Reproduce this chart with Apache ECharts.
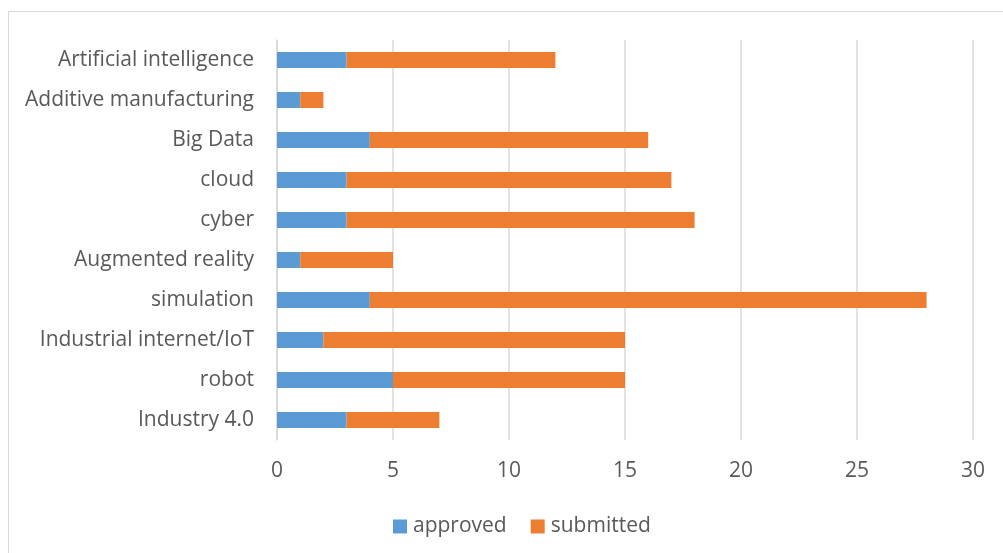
<!DOCTYPE html>
<html>
<head>
<meta charset="utf-8">
<script src="https://cdn.jsdelivr.net/npm/echarts@6/dist/echarts.min.js"></script>
<style>
html,body{margin:0;padding:0;background:#fff;overflow:hidden;}
#frame{position:absolute;left:8px;top:11px;width:1100px;height:600px;border:1px solid #D9D9D9;box-sizing:border-box;}
#chart{position:absolute;left:0;top:0;width:1003px;height:553px;}
</style>
</head>
<body>
<div id="frame"></div>
<div id="chart"></div>
<script>
const categories = ["Industry 4.0","robot","Industrial internet/IoT","simulation","Augmented reality","cyber","cloud","Big Data","Additive manufacturing","Artificial intelligence"];
const approved = [3,5,2,4,1,3,3,4,1,3];
const submitted = [4,10,13,24,4,15,14,12,1,9];
const xTicks = [0,5,10,15,20,25,30];

const FONT = "Open Sans";
const chart = echarts.init(document.getElementById('chart'));
chart.setOption({
  animation:false,
  backgroundColor:'transparent',
  grid:{left:277,right:30,top:40,bottom:113,containLabel:false},
  legend:{
    top:511,left:388,itemWidth:14,itemHeight:14,itemGap:24,
    icon:'rect',
    textStyle:{fontFamily:FONT,fontSize:21,color:'#595959',padding:[0,0,0,1]},
    data:['approved','submitted']
  },
  xAxis:{
    type:'value',min:xTicks[0],max:xTicks[xTicks.length-1],interval:5,
    axisLine:{show:false},axisTick:{show:false},
    splitLine:{lineStyle:{color:'#D9D9D9',width:1.5}},
    axisLabel:{fontFamily:FONT,fontSize:21,color:'#595959',margin:21}
  },
  yAxis:{
    type:'category',data:categories,
    axisLine:{show:true,lineStyle:{color:'#D9D9D9',width:1.5}},
    axisTick:{show:false},
    axisLabel:{fontFamily:FONT,fontSize:21,color:'#595959',margin:23,padding:[3,0,0,0]}
  },
  series:[
    {name:'approved',type:'bar',stack:'s',data:approved,barCategoryGap:'60%',itemStyle:{color:'#5B9BD5'}},
    {name:'submitted',type:'bar',stack:'s',data:submitted,barCategoryGap:'60%',itemStyle:{color:'#ED7D31'}}
  ]
});
</script>
</body>
</html>
